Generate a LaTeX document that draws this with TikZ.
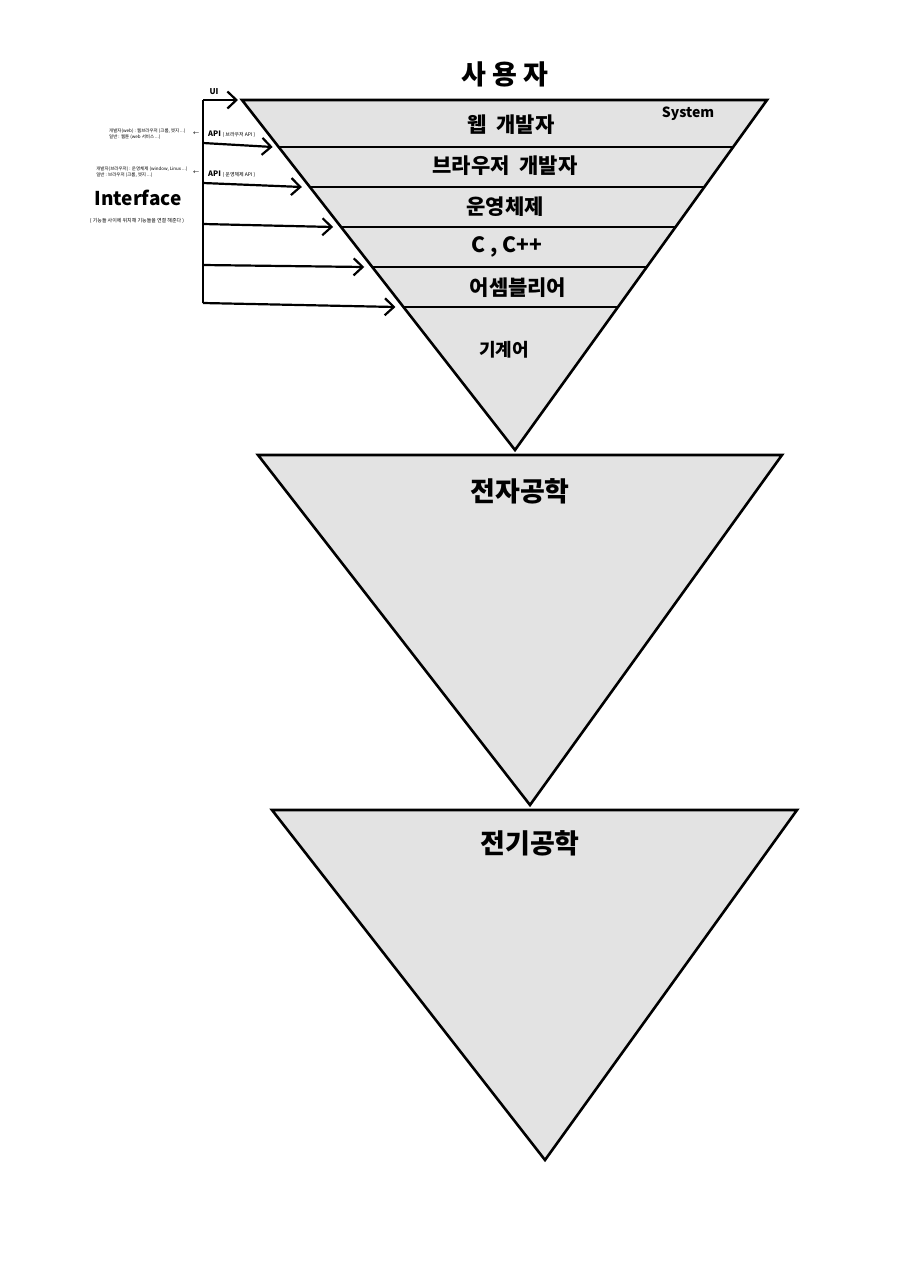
\documentclass[tikz,border=0pt]{standalone}
\usepackage{fontspec}
\setmainfont{Noto Sans CJK KR}
\usetikzlibrary{calc,arrows.meta}
\tikzset{
  tri/.style={draw=black,line width=2.6pt,fill=triGray,line join=miter},
  layer/.style={draw=black,line width=1.3pt},
  arr/.style={draw=black,line width=2.2pt,-{Straight Barb[length=9pt,width=17pt,line width=2.2pt]}},
  big/.style={font=\bfseries\fontsize{27}{30}\selectfont},
  mid/.style={font=\bfseries\fontsize{21}{25}\selectfont},
  tiny/.style={font=\fontsize{4.5}{5.5}\selectfont,align=left},
}
\definecolor{triGray}{HTML}{E3E3E3}
\begin{document}
\begin{tikzpicture}[x=1pt,y=-1pt]
\useasboundingbox[fill=white] (0,0) rectangle (914,1280);
% triangle 1
\coordinate (A1) at (242,100);
\coordinate (B1) at (767,100);
\coordinate (C1) at (515,450);
\draw[tri] (A1) -- (B1) -- (C1) -- cycle;
\foreach \y/\n in {147/a,187/b,227/c,267/d,307/e}{
  \pgfmathsetmacro{\t}{(\y-100)/350}
  \coordinate (L\n) at ($(A1)!\t!(C1)$);
  \coordinate (R\n) at ($(B1)!\t!(C1)$);
  \draw[layer] (L\n) -- (R\n);
}
% triangle 2
\coordinate (A2) at (258,455);
\coordinate (B2) at (782,455);
\coordinate (C2) at (530,805);
\draw[tri] (A2) -- (B2) -- (C2) -- cycle;
% triangle 3
\coordinate (A3) at (272,810);
\coordinate (B3) at (797,810);
\coordinate (C3) at (545,1160);
\draw[tri] (A3) -- (B3) -- (C3) -- cycle;

% labels
\node[big] (user) at (505,74) {사 용 자};
\node[mid] (web) at (511,125) {웹\ \ 개발자};
\node[font=\bfseries\fontsize{14}{16}\selectfont] (sys) at (688,114) {System};
\node[mid] (brow) at (505,166) {브라우저\ \ 개발자};
\node[mid] (os) at (505,207) {운영체제};
\node[mid] (cc) at (507,247) {C , C++};
\node[mid] (asm) at (518,288) {어셈블리어};
\node[font=\bfseries\fontsize{18}{20}\selectfont] (mach) at (504,350) {기계어};
\node[big] (elec) at (520,491) {전자공학};
\node[big] (elecp) at (530,843) {전기공학};

% interface arrows
\coordinate (V0) at (203,100);
\coordinate (V5) at (203,303);
\draw[line width=2.4pt] (V0) -- (V5);
\coordinate (T0) at (238,100);
\coordinate (S1) at (203,143);
\coordinate (S2) at (203,183);
\coordinate (S3) at (203,224);
\coordinate (S4) at (203,265);
\draw[arr] (V0) -- (T0);
\draw[arr] (S1) -- ($(La)+(-6,0)$);
\draw[arr] (S2) -- ($(Lb)+(-8,0)$);
\draw[arr] (S3) -- ($(Lc)+(-8,0)$);
\draw[arr] (S4) -- ($(Ld)+(-8,0)$);
\draw[arr] (V5) -- ($(Le)+(-8,0)$);

\node[font=\bfseries\fontsize{8}{9}\selectfont] (ui) at (214,92) {UI};
\node[anchor=west,inner sep=0pt] (api1) at (208,134) {{\bfseries\fontsize{7.5}{8}\selectfont API}\,{\fontsize{5}{6}\selectfont( 브라우저 API )}};
\node[anchor=west,inner sep=0pt] (api2) at (208,174) {{\bfseries\fontsize{7.5}{8}\selectfont API}\,{\fontsize{5}{6}\selectfont( 운영체제 API )}};
\node[font=\fontsize{6}{6}\selectfont] (ar1) at (196,134) {←};
\node[font=\fontsize{6}{6}\selectfont] (ar2) at (196,173) {←};
\node[tiny,anchor=east] (n1) at (189,134) {개발자(web) : 웹브라우저 (크롬, 엣지 ...)\\일반 : 웹툰 (web 서비스 ...)};
\node[tiny,anchor=east] (n2) at (191,172) {개발자(브라우저) : 운영체제 (window, Linux ...)\\일반 : 브라우저 (크롬, 엣지 ...)};
\node[font=\bfseries\fontsize{19}{21}\selectfont] (intf) at (138,198) {Interface};
\node[font=\fontsize{5}{6}\selectfont] (intsub) at (137,221) {( 기능들 사이에 위치해 기능들을 연결 해준다 )};
\end{tikzpicture}
\end{document}
